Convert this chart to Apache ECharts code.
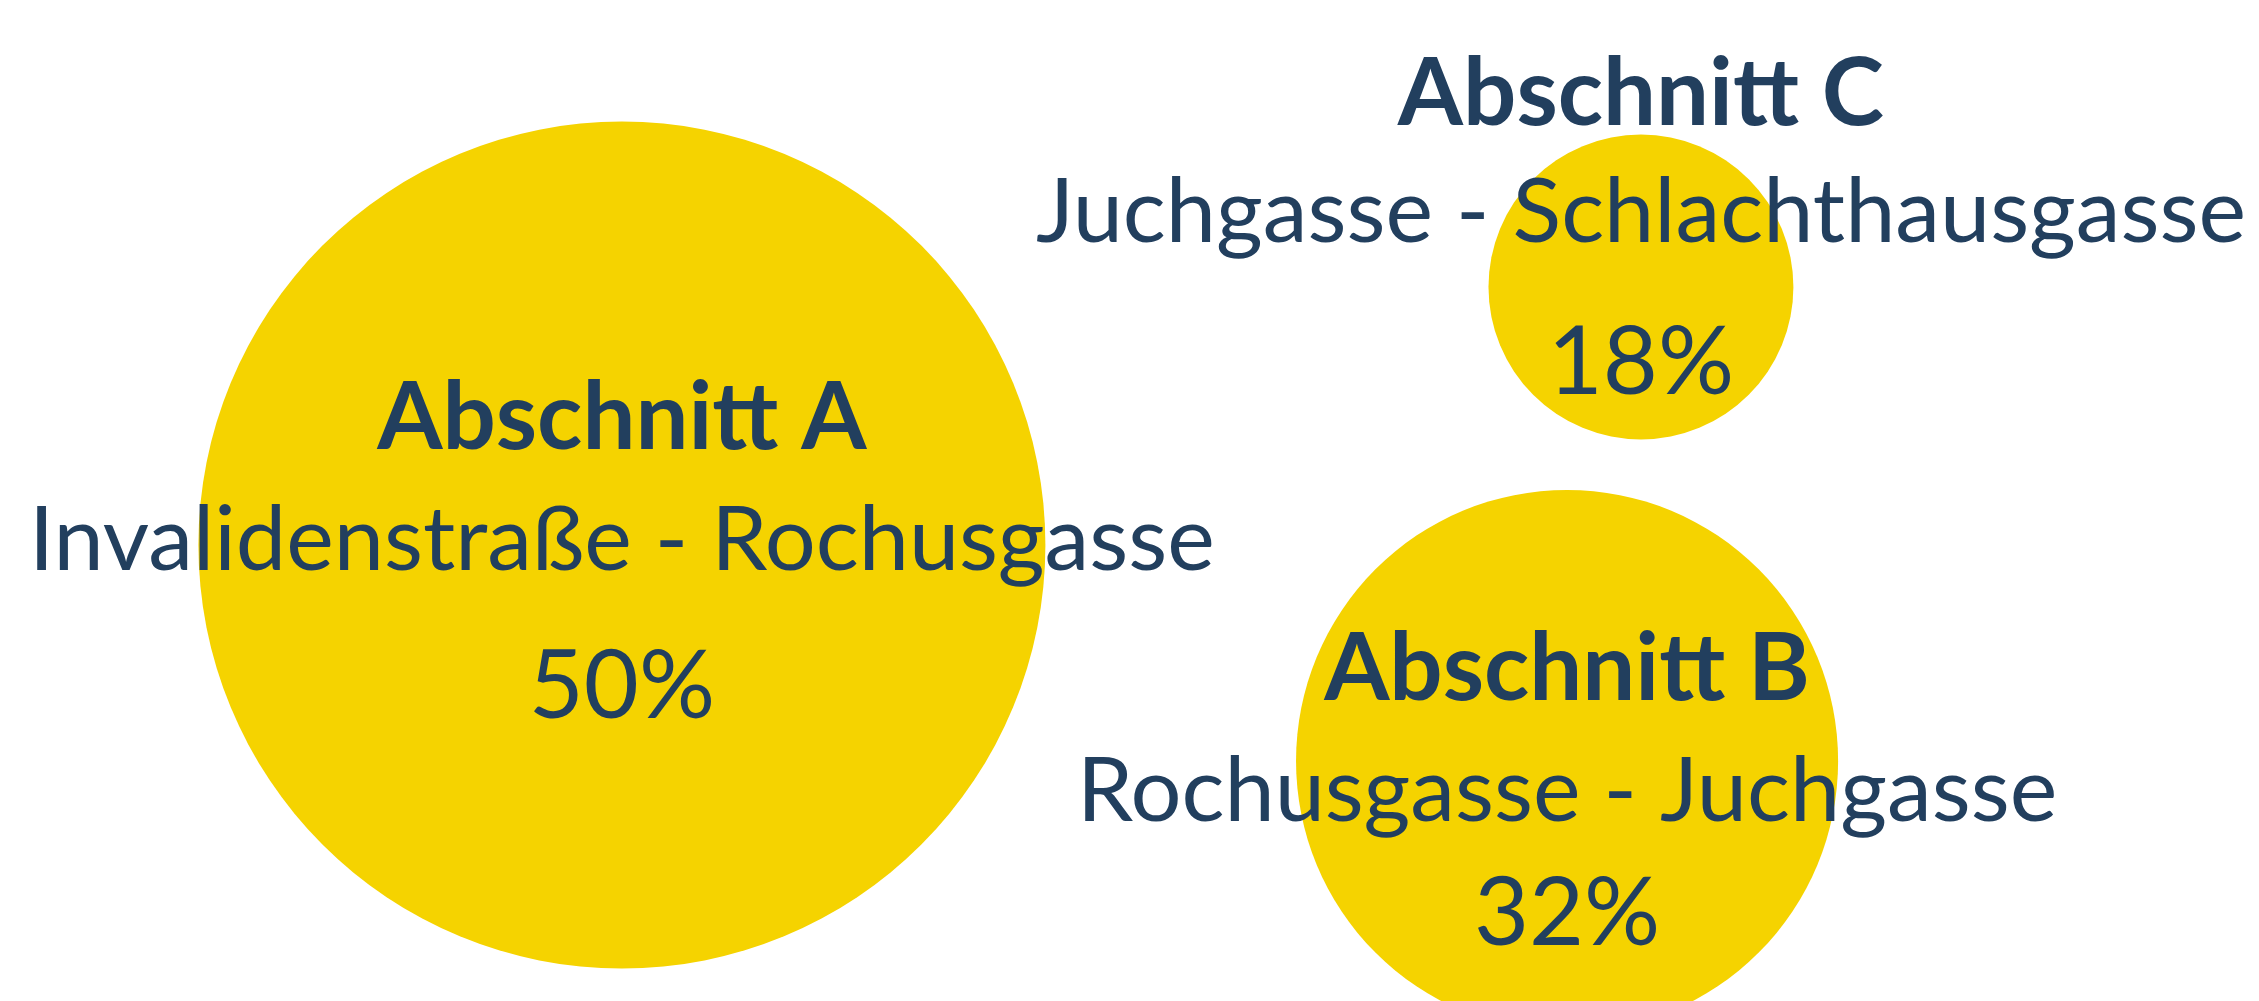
<!DOCTYPE html>
<html>
<head>
<meta charset="utf-8">
<script src="https://cdn.jsdelivr.net/npm/echarts@6/dist/echarts.min.js"></script>
<style>
  html, body { margin: 0; padding: 0; background: #ffffff; }
  #chart { width: 2259px; height: 1001px; }
</style>
</head>
<body>
<div id="chart"></div>
<script>
// ---- data ----
const sections = ['Abschnitt A', 'Abschnitt B', 'Abschnitt C'];
const streets = ['Invalidenstraße - Rochusgasse', 'Rochusgasse - Juchgasse', 'Juchgasse - Schlachthausgasse'];
const shares = [50, 32, 18];
// bubble layout positions (0-100 layout units)
const posX = [27.53, 69.37, 72.64];
const posY = [45.55, 23.98, 71.33];

// ---- styles ----
const YELLOW = '#F5D300';
const NAVY = '#223F5E';
const FONT = 'Lato, "Noto Sans", sans-serif';
const SIZE_PER_PCT = 16.94;
// line heights per label and vertical shift (via asymmetric padding)
const labelLayout = [
  { lh: [122, 122, 170], pad: [40, 0, 0, 0] },
  { lh: [122, 122, 122], pad: [62, 0, 0, 0] },
  { lh: [118, 118, 182], pad: [0, 0, 84, 0] }
];

const data = shares.map((v, i) => ({
  value: [posX[i], posY[i], v],
  name: sections[i],
  label: {
    show: true,
    position: 'inside',
    padding: labelLayout[i].pad,
    formatter: '{t|' + sections[i] + '}\n{s|' + streets[i] + '}\n{p|' + v + '%}',
    rich: {
      t: { fontFamily: FONT, fontWeight: 'bold', fontSize: 94, color: NAVY, lineHeight: labelLayout[i].lh[0], align: 'center' },
      s: { fontFamily: FONT, fontWeight: 'normal', fontSize: 90, color: NAVY, lineHeight: labelLayout[i].lh[1], align: 'center' },
      p: { fontFamily: FONT, fontWeight: 'normal', fontSize: 95, color: NAVY, lineHeight: labelLayout[i].lh[2], align: 'center' }
    }
  }
}));

const chart = echarts.init(document.getElementById('chart'), null, { renderer: 'canvas' });
chart.setOption({
  backgroundColor: '#ffffff',
  animation: false,
  grid: { left: 0, right: 0, top: 0, bottom: 0 },
  xAxis: { type: 'value', min: 0, max: 100, show: false },
  yAxis: { type: 'value', min: 0, max: 100, show: false },
  series: [{
    type: 'scatter',
    data: data,
    symbol: 'circle',
    symbolSize: function (val) { return val[2] * SIZE_PER_PCT; },
    itemStyle: { color: YELLOW, opacity: 1 },
    emphasis: { disabled: true },
    labelLayout: { hideOverlap: false }
  }]
});
</script>
</body>
</html>
